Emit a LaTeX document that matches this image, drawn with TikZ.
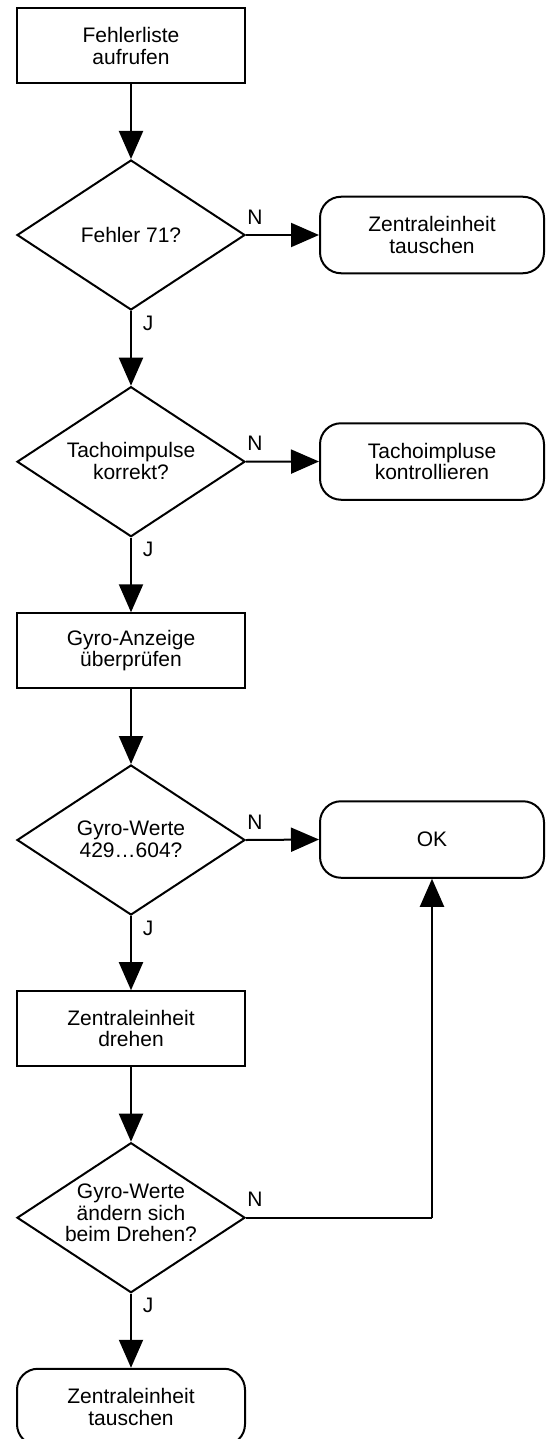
\documentclass[tikz,border=0pt]{standalone}
\usepackage{fontspec}
\setmainfont{Liberation Sans}
\usetikzlibrary{arrows.meta,shapes.geometric}
\begin{document}
\begin{tikzpicture}[x=1pt,y=-1pt,
  every node/.style={font=\fontsize{21}{21.5}\selectfont},
  boxstep/.style={draw,line width=2pt,minimum width=228pt,minimum height=75pt,align=center,inner sep=0pt},
  roundstep/.style={draw,line width=2pt,minimum width=224pt,minimum height=76.5pt,align=center,inner sep=0pt,rounded corners=21pt},
  decision/.style={draw,line width=2pt,shape=diamond,minimum width=228pt,minimum height=150pt,inner sep=0pt},
  dtext/.style={align=center,inner sep=0pt},
  flow/.style={line width=2pt,-{Triangle[length=28pt,width=24pt]}},
  plain/.style={line width=2pt},
  nlab/.style={inner sep=0pt,pos=0,anchor=center,xshift=9pt,yshift=18pt},
  jlab/.style={inner sep=0pt,pos=0,anchor=center,xshift=17pt,yshift=-12pt}]
\clip (0,0) rectangle (549,1439);
\useasboundingbox (0,0) rectangle (549,1439);

\node[boxstep] (b1) at (131,45.8) {Fehlerliste\\aufrufen};
\node[decision] (d1) at (131,235) {};
\node[dtext] (t1) at (131,235) {Fehler 71?};
\node[roundstep] (r1) at (432,235) {Zentraleinheit\\tauschen};

\node[decision] (d2) at (131,461.7) {};
\node[dtext] (t2) at (131,461) {Tachoimpulse\\korrekt?};
\node[roundstep] (r2) at (432,461.5) {Tachoimpluse\\kontrollieren};

\node[boxstep] (b2) at (131,650.8) {Gyro-Anzeige\\überprüfen};

\node[decision] (d3) at (131,840) {};
\node[dtext] (t3) at (131,839.5) {Gyro-Werte\\429…604?};
\node[roundstep] (ok) at (432,839.5) {OK};

\node[boxstep] (b3) at (131,1028.7) {Zentraleinheit\\drehen};

\node[decision] (d4) at (131,1217.7) {};
\node[dtext] (t4) at (131,1213) {Gyro-Werte\\ändern sich\\beim Drehen?};

\node[roundstep,minimum width=228pt] (r3) at (131,1407) {Zentraleinheit\\tauschen};

\coordinate (corner) at (432,1217.7);

\draw[flow] (b1.south) -- (d1.north);
\draw[flow] (d1.east) -- (r1.west) node[nlab] (n1) {N};
\draw[flow] (d1.south) -- (d2.north) node[jlab] (j1) {J};
\draw[flow] (d2.east) -- (r2.west) node[nlab] (n2) {N};
\draw[flow] (d2.south) -- (b2.north) node[jlab] (j2) {J};
\draw[flow] (b2.south) -- (d3.north);
\draw[flow] (d3.east) -- (ok.west) node[nlab] (n3) {N};
\draw[flow] (d3.south) -- (b3.north) node[jlab] (j3) {J};
\draw[flow] (b3.south) -- (d4.north);
\draw[plain] (d4.east) -- (corner) node[nlab] (n4) {N};
\draw[flow] (corner) -- (ok.south);
\draw[flow] (d4.south) -- (r3.north) node[jlab] (j4) {J};
\end{tikzpicture}
\end{document}
